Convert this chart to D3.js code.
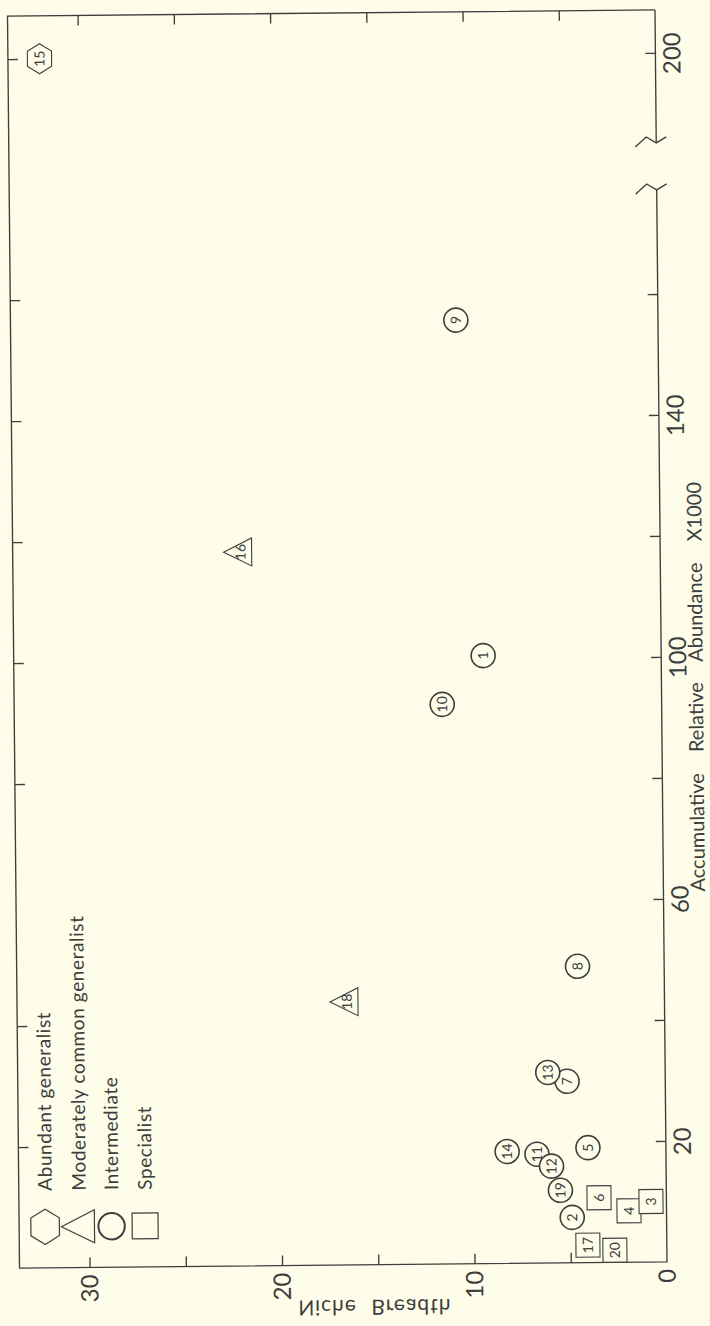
<!DOCTYPE html>
<html><head><meta charset="utf-8">
<script src="https://cdn.jsdelivr.net/npm/d3@7"></script>
<style>
body{margin:0;background:#fdfde9;}
svg{display:block;}
text{font-family:Lato,"Open Sans","DejaVu Sans",sans-serif;fill:#3e3e3e;}
</style>
</head><body>
<script>
// ---- data ----
const ids          = [15, 16, 9, 1, 10, 18, 8, 7, 13, 14, 11, 12, 5, 19, 2, 6, 4, 3, 17, 20];
const abundance    = [200, 118, 156, 100.5, 92.5, 43.5, 49, 30, 31.5, 18.5, 18, 16, 19, 12, 7.5, 10.7, 8.5, 10, 2.9, 2.0];
const nicheBreadth = [32.0, 21.9, 10.5, 9.25, 11.4, 16.6, 4.5, 5.1, 6.1, 8.25, 6.7, 5.95, 4.05, 5.5, 4.9, 3.5, 1.95, 0.8, 4.1, 2.7];
const groups       = ["A","M","I","I","I","M","I","I","I","I","I","I","I","I","I","S","S","S","S","S"];
const legendKeys   = ["A","M","I","S"];
const legendLabels = ["Abundant generalist","Moderately common generalist","Intermediate","Specialist"];
const abundanceTicks  = [20,40,60,80,100,120,140,160,200];
const abundanceLabels = [20,60,100,140,200];
const leftEdgeTicks   = [20,40,80,100,120,140,160,200];
const nicheTicks  = [5,10,15,20,25,30];
const nicheLabels = [0,10,20,30];
const xTitle = "Accumulative Relative Abundance X1000";
const yTitle = "Niche Breadth";

// ---- layout ----
const W = 710, H = 1326;
const F = {left:13.5, right:661, top:13, bottom:1265};
const ink = "#3e3e3e";

const svg = d3.select("body").append("svg").attr("width", W).attr("height", H);
svg.append("rect").attr("width", W).attr("height", H).attr("fill", "#fdfde9");
const root = svg.append("g").attr("transform", "rotate(-0.55 337 639)");

// niche breadth runs right-to-left along the bottom, abundance bottom-to-top (broken above 177)
const x = d3.scaleLinear().domain([0, 33.64]).range([F.right, F.left]);
const y = d3.scaleLinear().domain([0, 177.2, 185.1, 207.1]).range([F.bottom, 193, 146, F.top]);

const line = d3.line();
const frame = root.append("g").attr("fill","none").attr("stroke", ink).attr("stroke-width", 1.35);
frame.append("path").attr("d", line([[F.right, F.top],[F.left, F.top],[F.left, F.bottom],[F.right, F.bottom],[F.right, y(177.2)]]));
frame.append("path").attr("d", line([[F.right, y(185.1)],[F.right, F.top]]));
const brk = [[-21,4],[-10,-6],[0,0],[10,-6]];
[177.2, 185.1].forEach(v => {
  frame.append("path").attr("d", line(brk.map(p => [F.right + p[0], y(v) + p[1]])));
});

// right axis (abundance) with ticks inward
const rAxis = root.append("g").attr("transform", `translate(${F.right},0)`)
  .call(d3.axisLeft(y).tickValues(abundanceTicks).tickSize(10)
        .tickFormat(d => abundanceLabels.includes(d) ? d : ""));
rAxis.select(".domain").remove();
rAxis.selectAll("line").attr("stroke", ink).attr("stroke-width", 1.35);
rAxis.selectAll("text").attr("x", null).attr("dy", null)
  .attr("transform", "translate(25,0) rotate(-90)")
  .attr("text-anchor", "middle").attr("font-size", 24).attr("fill", ink).style("font-family", null);

// left edge ticks (inward)
const lAxis = root.append("g").attr("transform", `translate(${F.left},0)`)
  .call(d3.axisRight(y).tickValues(leftEdgeTicks).tickSize(10).tickFormat(""));
lAxis.select(".domain").remove();
lAxis.selectAll("line").attr("stroke", ink).attr("stroke-width", 1.35);

// bottom axis (niche breadth) ticks inward
const bAxis = root.append("g").attr("transform", `translate(0,${F.bottom})`)
  .call(d3.axisTop(x).tickValues(nicheTicks).tickSize(10).tickFormat(""));
bAxis.select(".domain").remove();
bAxis.selectAll("line").attr("stroke", ink).attr("stroke-width", 1.35);
root.append("g").selectAll("text").data(nicheLabels).join("text")
  .attr("transform", d => `translate(${x(d)+8.5},${F.bottom+7}) rotate(-90)`)
  .attr("text-anchor", "end").attr("font-size", 24).text(d => d);

// top edge ticks
const tAxis = root.append("g").attr("transform", `translate(0,${F.top})`)
  .call(d3.axisBottom(x).tickValues(nicheTicks).tickSize(10).tickFormat(""));
tAxis.select(".domain").remove();
tAxis.selectAll("line").attr("stroke", ink).attr("stroke-width", 1.35);

// titles
root.append("text")
  .attr("transform", `translate(702.5,${y(95)}) rotate(-90)`)
  .attr("text-anchor","middle").attr("font-size", 20).attr("word-spacing", 16)
  .text(xTitle);
root.append("text")
  .attr("transform", `translate(${x(15.2)},${F.bottom+35}) scale(1,-1)`)
  .attr("text-anchor","middle").attr("font-size", 21).attr("letter-spacing", 1).attr("word-spacing", 8)
  .text(yTitle);

// shape builders
function shapePath(g, s) {
  if (g === "A") { // hexagon, pointy ends along y
    const r = 15*s;
    return d3.line()(d3.range(6).map(i => { const a = Math.PI/180*(90 + 60*i); return [r*Math.cos(a)*0.93, r*Math.sin(a)]; })) + "Z";
  }
  if (g === "M") { // triangle, apex pointing left
    return d3.line()([[-15*s,0],[13*s,-14*s],[13*s,14*s]]) + "Z";
  }
  if (g === "I") {
    const r = 12*s;
    return `M${-r},0A${r},${r} 0 1,0 ${r},0A${r},${r} 0 1,0 ${-r},0Z`;
  }
  const h = 12*s;
  return `M${-h},${-h}H${h}V${h}H${-h}Z`;
}

// points
const pts = ids.map((id,i) => ({id, a:abundance[i], nb:nicheBreadth[i], g:groups[i]}));
const pg = root.append("g").selectAll("g").data(pts).join("g")
  .attr("transform", d => `translate(${x(d.nb)},${y(d.a)})`);
pg.append("path").attr("d", d => shapePath(d.g, 1))
  .attr("fill", "#fdfde9").attr("stroke", ink)
  .attr("stroke-width", d => d.g === "I" ? 1.6 : 1.1);
pg.append("text").attr("transform", d => `translate(${d.g==="M"?2:0},0) rotate(-90)`)
  .attr("text-anchor","middle").attr("dy","0.35em").attr("font-size", 14).text(d => d.id);

// legend
const legX = [39.5, 73.5, 106, 139.5];
const lg = root.append("g").selectAll("g").data(legendKeys).join("g");
lg.append("path")
  .attr("transform", (d,i) => `translate(${legX[i]},1224)`)
  .attr("d", d => shapePath(d, d === "I" ? 1.1 : (d === "S" ? 1.08 : 1.18)))
  .attr("fill","none").attr("stroke", ink).attr("stroke-width", d => d === "I" ? 2 : 1.2);
lg.append("text")
  .attr("transform", (d,i) => `translate(${legX[i]+7},1188) rotate(-90)`)
  .attr("font-size", 19).attr("letter-spacing", 0.6)
  .text((d,i) => legendLabels[i]);
</script>
</body></html>
